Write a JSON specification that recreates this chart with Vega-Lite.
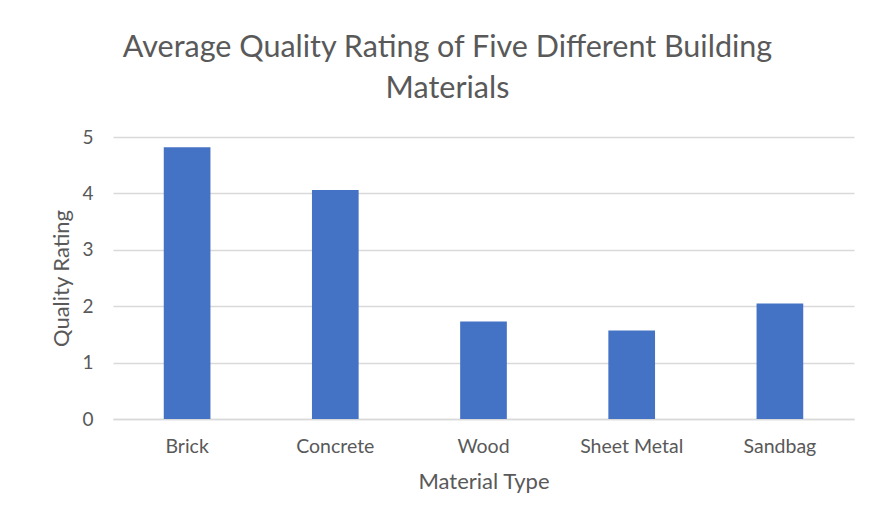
{
  "$schema": "https://vega.github.io/schema/vega-lite/v6.json",
  "width": 741,
  "height": 282,
  "autosize": {"type": "none"},
  "padding": {"left": 113, "top": 137, "right": 19, "bottom": 102},
  "background": "white",
  "config": {
    "view": {"stroke": null},
    "font": "Lato",
    "axis": {"labelColor": "#595959", "titleColor": "#595959", "labelFont": "Lato", "titleFont": "Lato", "titleFontWeight": "normal"}
  },
  "title": {
    "text": ["Average Quality Rating of Five Different Building", "Materials"],
    "font": "Lato",
    "fontSize": 30.5,
    "fontWeight": "normal",
    "color": "#595959",
    "anchor": "middle",
    "dx": -36,
    "offset": 24,
    "lineHeight": 41
  },
  "data": {
    "values": [
      {"material": "Brick", "rating": 4.82},
      {"material": "Concrete", "rating": 4.06},
      {"material": "Wood", "rating": 1.73},
      {"material": "Sheet Metal", "rating": 1.57},
      {"material": "Sandbag", "rating": 2.05}
    ]
  },
  "mark": {"type": "bar", "color": "#4472C4"},
  "encoding": {
    "x": {
      "field": "material",
      "type": "nominal",
      "sort": null,
      "scale": {"paddingInner": 0.685, "paddingOuter": 0.3425},
      "axis": {
        "title": "Material Type",
        "labelAngle": 0,
        "labelFontSize": 19.5,
        "titleFontSize": 22,
        "ticks": false,
        "labelPadding": 18,
        "titlePadding": 16,
        "domainColor": "#d9d9d9",
        "domainWidth": 1.5
      }
    },
    "y": {
      "field": "rating",
      "type": "quantitative",
      "scale": {"domain": [0, 5], "nice": false},
      "axis": {
        "title": "Quality Rating",
        "values": [0, 1, 2, 3, 4, 5],
        "labelFontSize": 19,
        "titleFontSize": 22,
        "ticks": false,
        "domain": false,
        "labelPadding": 20,
        "titlePadding": 8,
        "gridColor": "#d9d9d9",
        "gridWidth": 1.5
      }
    }
  }
}
